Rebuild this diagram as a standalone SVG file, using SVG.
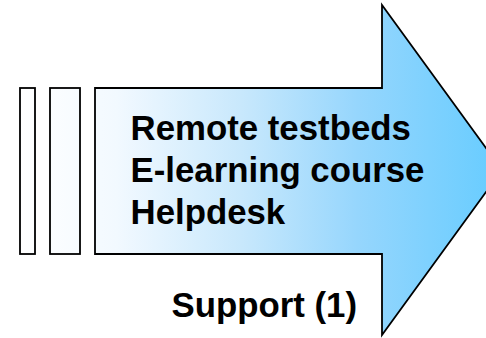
<svg xmlns="http://www.w3.org/2000/svg" width="486" height="338" viewBox="0 0 486 338">
  <defs>
    <linearGradient id="blueGrad" gradientUnits="userSpaceOnUse" x1="20" y1="0" x2="502" y2="0">
      <stop offset="0" stop-color="#ffffff"/>
      <stop offset="0.2" stop-color="#f2f9ff"/>
      <stop offset="0.46" stop-color="#c8e8fc"/>
      <stop offset="0.7" stop-color="#96d6fd"/>
      <stop offset="1" stop-color="#66ccff"/>
    </linearGradient>
  </defs>
  <style>
    .shape { fill: url(#blueGrad); stroke: #000000; stroke-width: 1.8; stroke-linejoin: miter; }
    .label { font-family: "Liberation Sans", Arial, sans-serif; font-weight: bold; font-size: 34.8px; fill: #000000; }
  </style>
  <g id="striped-arrow">
    <rect class="shape" x="20" y="88" width="15" height="166"/>
    <rect class="shape" x="50" y="88" width="30" height="166"/>
    <path class="shape" d="M95,88 L382,88 L382,5 L502,170 L382,335 L382,254 L95,254 Z"/>
  </g>
  <g id="arrow-text">
    <text class="label" x="130.5" y="139.5">Remote testbeds</text>
    <text class="label" x="130.5" y="181.5">E-learning course</text>
    <text class="label" x="130.5" y="223.5">Helpdesk</text>
  </g>
  <g id="caption">
    <text class="label" x="171.5" y="317">Support (1)</text>
  </g>
</svg>
